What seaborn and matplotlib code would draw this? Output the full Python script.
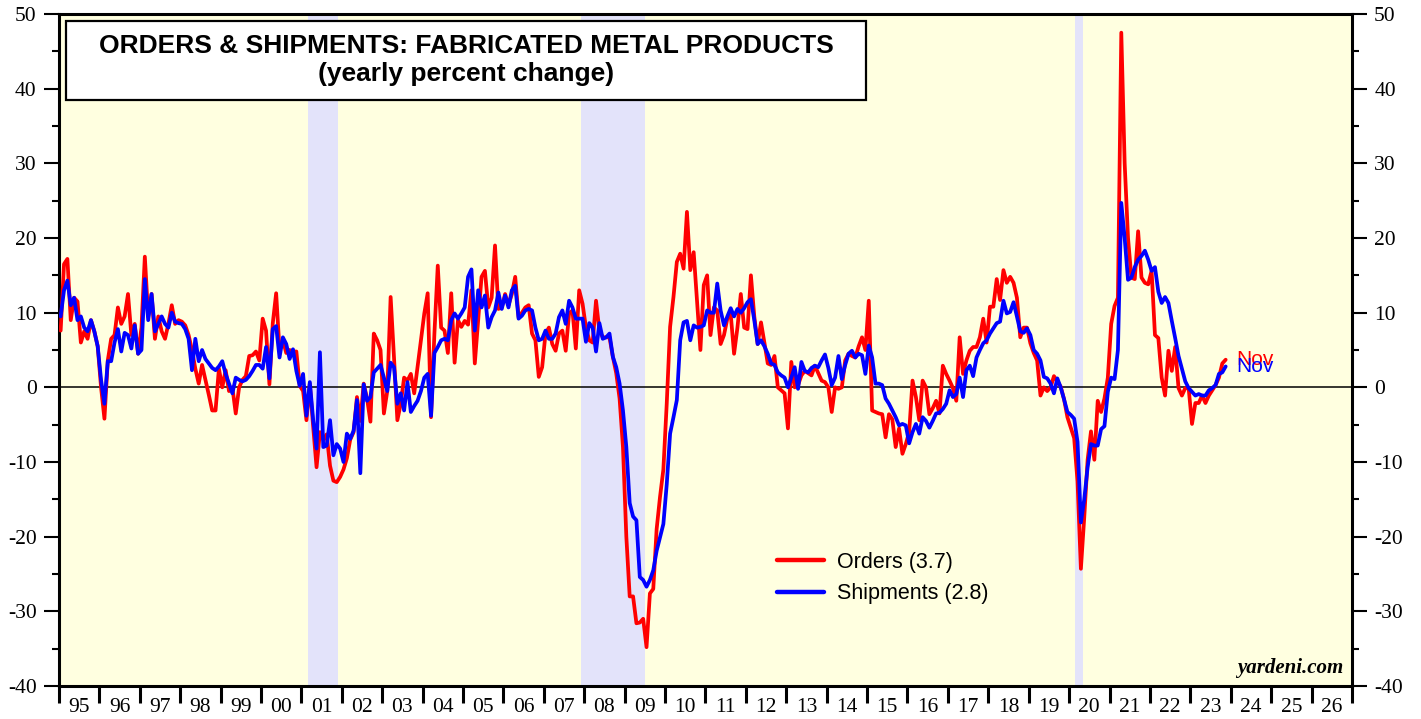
import numpy as np
import pandas as pd
import matplotlib
matplotlib.use("Agg")
import matplotlib.pyplot as plt
import seaborn as sns
from matplotlib.patches import Rectangle
from matplotlib.ticker import MultipleLocator, FixedFormatter

# Yearly percent change, monthly, Jan 1995 .. Nov 2023
orders = [
    7.6, 16.5, 17.2, 9.0, 12.0, 11.5, 6.0, 7.5, 6.5, 9.0, 7.5, 5.5,            # 1995
    0.0, -4.2, 3.6, 6.5, 7.0, 10.7, 8.5, 9.5, 12.5, 7.0, 8.5, 4.5,             # 1996
    8.0, 17.5, 9.5, 12.5, 6.5, 9.5, 7.5, 6.5, 8.5, 11.0, 8.5, 9.0,             # 1997
    8.8, 8.3, 7.0, 5.0, 2.5, 0.5, 3.0, 1.0, -1.0, -3.1, -3.1, 2.5,             # 1998
    0.0, 2.3, -0.5, 0.0, -3.5, 0.0, 1.0, 1.5, 4.2, 4.3, 4.8, 3.6,              # 1999
    9.2, 7.6, 0.4, 8.6, 12.6, 5.0, 6.3, 4.6, 5.0, 4.8, 4.8, 0.2,               # 2000
    -0.5, -4.4, 0.5, -5.3, -10.7, -6.0, -7.0, -6.3, -10.5, -12.5, -12.7, -12.0,  # 2001
    -11.0, -9.5, -7.0, -6.0, -1.3, -4.5, 0.5, -1.5, -4.6, 7.2, 6.3, 5.0,       # 2002
    -3.5, -0.5, 12.1, 4.0, -4.4, -2.2, 1.3, 0.9, 1.8, -0.8, 2.7, 6.3,          # 2003
    9.9, 12.6, -4.0, 7.2, 16.3, 8.0, 7.6, 4.6, 12.6, 3.3, 9.0, 8.1,            # 2004
    8.9, 8.4, 13.0, 3.2, 9.0, 14.8, 15.6, 10.7, 12.0, 19.0, 10.5, 10.7,        # 2005
    12.5, 11.0, 12.5, 14.8, 9.4, 10.0, 10.7, 11.0, 7.2, 6.3, 1.4, 2.7,         # 2006
    7.2, 8.0, 5.8, 4.9, 7.2, 7.6, 4.9, 9.9, 10.3, 5.2, 13.0, 11.2,             # 2007
    8.0, 6.3, 6.0, 11.6, 7.6, 6.7, 6.7, 6.7, 4.1, 1.9, -1.5, -8.0,             # 2008
    -20.0, -28.0, -28.0, -31.6, -31.5, -31.0, -34.8, -27.6, -27.0, -19.0, -14.7, -11.0,  # 2009
    -2.2, 8.1, 12.1, 16.8, 17.9, 15.9, 23.5, 15.7, 18.1, 11.6, 5.0, 13.7,      # 2010
    15.0, 7.0, 10.7, 10.3, 5.8, 7.0, 9.2, 9.8, 4.5, 8.0, 12.5, 8.0,            # 2011
    7.8, 15.0, 9.5, 5.8, 8.7, 6.0, 3.2, 3.0, 4.2, 0.0, -0.4, -0.8,             # 2012
    -5.5, 3.4, 0.0, 0.3, 1.6, 2.2, 1.9, 1.6, 2.9, 1.9, 0.9, 0.7,               # 2013
    0.0, -3.3, 0.0, -0.2, 0.0, 3.6, 4.5, 4.2, 4.0, 5.5, 6.7, 5.0,              # 2014
    11.6, -3.1, -3.3, -3.5, -3.6, -6.7, -3.6, -4.3, -8.0, -5.5, -8.9, -7.6,    # 2015
    -6.0, 0.9, -1.3, -4.4, 0.9, 0.0, -3.6, -2.8, -1.8, -3.5, 2.9, 1.8,         # 2016
    0.9, -0.1, -1.8, 6.7, 1.8, 3.6, 4.9, 5.4, 5.4, 6.7, 9.2, 6.0,              # 2017
    10.8, 10.8, 14.5, 11.7, 15.7, 14.0, 14.8, 14.0, 12.0, 6.7, 8.0, 8.0,       # 2018
    5.9, 4.6, 3.6, -1.1, 0.0, -0.5, 0.0, 1.5, 0.8, 0.1, -1.6, -4.0,            # 2019
    -5.4, -6.8, -12.6, -24.3, -17.4, -9.7, -5.9, -9.7, -1.8, -3.3, -1.5, 1.3,  # 2020
    8.5, 10.9, 12.0, 47.5, 30.0, 20.0, 14.7, 14.5, 20.9, 14.7, 14.0, 13.8,     # 2021
    15.6, 7.0, 6.6, 1.3, -1.1, 4.9, 2.2, 5.4, -0.1, -1.1, -0.1, -0.1,          # 2022
    -4.9, -2.1, -2.1, -1.1, -2.1, -1.1, -0.4, 0.3, 1.3, 3.2, 3.7,              # 2023
]
shipments = [
    9.5, 13.0, 14.3, 11.0, 12.0, 9.0, 9.5, 8.0, 7.5, 9.0, 7.5, 5.5,            # 1995
    1.0, -2.2, 3.5, 3.5, 6.0, 7.8, 4.8, 7.3, 7.0, 5.2, 8.3, 4.5,               # 1996
    5.0, 14.5, 9.0, 12.5, 7.5, 8.5, 9.5, 8.5, 8.0, 10.0, 8.8, 8.6,             # 1997
    8.5, 7.8, 6.5, 2.3, 6.5, 3.5, 5.0, 3.8, 3.2, 2.6, 2.3, 2.8,                # 1998
    3.5, 1.8, 0.5, -0.8, 1.3, 1.0, 0.8, 1.0, 1.5, 2.2, 3.0, 3.0,               # 1999
    2.5, 5.4, 1.2, 7.8, 8.2, 4.0, 6.7, 5.8, 3.8, 5.1, 2.2, 0.2,                # 2000
    1.8, -3.8, 0.7, -4.4, -8.2, 4.7, -8.0, -7.8, -4.4, -9.1, -7.6, -8.2,       # 2001
    -10.0, -6.2, -6.9, -5.8, -1.7, -11.5, 0.4, -1.8, -1.3, 2.0, 2.5, 3.0,      # 2002
    1.3, -0.5, 3.3, 2.7, -2.2, -0.8, -3.1, 0.7, -3.3, -2.5, -1.8, -0.5,        # 2003
    1.3, 1.8, -3.8, 4.6, 5.4, 6.3, 6.5, 6.3, 9.0, 9.9, 9.2, 9.9,               # 2004
    10.7, 14.8, 15.8, 7.6, 13.0, 10.7, 12.3, 8.0, 9.4, 10.3, 12.7, 10.5,       # 2005
    12.3, 10.7, 13.0, 13.6, 9.2, 9.6, 10.3, 10.5, 10.3, 8.0, 6.3, 6.5,         # 2006
    7.6, 6.5, 6.5, 7.2, 9.4, 10.3, 8.5, 11.6, 10.7, 9.2, 9.2, 9.2,             # 2007
    6.1, 8.6, 8.0, 4.8, 8.6, 6.5, 6.7, 7.2, 4.1, 2.7, 0.5, -3.1,               # 2008
    -8.0, -15.5, -17.3, -17.8, -25.4, -25.8, -26.7, -25.8, -24.5, -21.9, -20.1, -18.3,  # 2009
    -13.0, -6.2, -4.0, -1.7, 6.3, 8.7, 8.9, 6.3, 8.3, 8.0, 8.1, 8.3,           # 2010
    10.3, 10.0, 10.0, 13.9, 10.3, 8.3, 9.5, 10.6, 9.5, 10.5, 10.0, 10.6,       # 2011
    11.4, 11.8, 9.0, 5.8, 6.3, 5.5, 4.5, 3.2, 3.0, 2.0, 1.6, 1.3,              # 2012
    0.0, 1.3, 2.7, -0.2, 3.4, 2.2, 2.0, 2.6, 2.9, 2.7, 3.6, 4.4,               # 2013
    2.6, 0.3, 1.3, 4.2, 1.1, 3.0, 4.5, 4.9, 4.0, 4.5, 4.3, 1.8,                # 2014
    5.6, 4.0, 0.5, 0.5, 0.3, -1.5, -2.2, -3.1, -4.0, -5.1, -4.9, -5.1,         # 2015
    -7.5, -6.0, -4.9, -6.2, -4.0, -4.5, -5.4, -4.5, -3.5, -3.4, -2.9, -2.2,    # 2016
    -0.4, -1.3, -0.9, 1.3, -1.3, 2.3, 2.9, 1.5, 4.0, 5.0, 5.9, 6.3,            # 2017
    7.2, 7.9, 8.6, 8.8, 11.6, 9.9, 10.1, 11.4, 9.5, 7.5, 7.3, 7.9,             # 2018
    7.0, 5.0, 4.5, 3.6, 1.4, 1.2, 0.5, -0.8, 1.2, 0.0, -1.6, -3.3,             # 2019
    -3.7, -4.2, -7.3, -18.1, -15.0, -10.7, -7.6, -7.8, -7.8, -5.6, -5.2, -0.6, # 2020
    1.3, 1.1, 5.0, 24.7, 20.0, 14.4, 14.7, 16.1, 17.1, 17.6, 18.3, 17.1,       # 2021
    15.6, 16.1, 12.8, 11.3, 12.1, 11.3, 8.9, 6.6, 4.2, 2.5, 0.8, -0.1,         # 2022
    -0.6, -1.1, -0.9, -1.1, -1.1, -0.4, -0.1, 0.3, 1.8, 2.0, 2.8,              # 2023
]
start_year = 1995
year_labels = [f"{y % 100:02d}" for y in range(1995, 2027)]
recessions = [(2001.17, 2001.9), (2007.92, 2009.5), (2020.15, 2020.35)]

# Build frame (mid-month decimal dates)
n = len(orders)
t = np.array([start_year + (i + 0.5) / 12 for i in range(n)])
df = pd.DataFrame({"t": t, "orders": orders, "shipments": shipments})

sns.set_style("white")
plt.rcParams["axes.unicode_minus"] = False
plt.rcParams["font.family"] = ["Liberation Sans", "DejaVu Sans"]
plt.rcParams["text.color"] = "black"
plt.rcParams["xtick.color"] = "black"
plt.rcParams["ytick.color"] = "black"

fig = plt.figure(figsize=(14.21, 7.19), dpi=100)
ax = fig.add_axes([0.0415, 0.0459, 0.9099, 0.9346])
ax.set_facecolor("#FFFFE0")

for a, b in recessions:
    ax.axvspan(a, b, color="#E3E3FA", lw=0, zorder=0)
ax.axhline(0, color="black", lw=1.1, zorder=1)

sns.lineplot(data=df, x="t", y="orders", color="#FF0000", lw=2.7, ax=ax,
             label=f"Orders ({orders[-1]:.1f})", zorder=3)
sns.lineplot(data=df, x="t", y="shipments", color="#0000FF", lw=2.7, ax=ax,
             label=f"Shipments ({shipments[-1]:.1f})", zorder=4)

ax.set_xlim(1995, 2027)
ax.set_ylim(-40, 50)
ax.set_xlabel("")
ax.set_ylabel("")

# x axis: year boundaries as ticks, year labels centred in between
ax.xaxis.set_major_locator(MultipleLocator(1))
ax.xaxis.set_major_formatter(FixedFormatter([]))
ax.set_xticks(np.arange(1995, 2027) + 0.5, minor=True)
ax.set_xticklabels(year_labels, minor=True)
ax.tick_params(axis="x", which="major", direction="out", length=12, width=2.2,
               bottom=True, top=False, labelbottom=False)
ax.tick_params(axis="x", which="minor", length=0, pad=9, labelsize=15.5)

# y axis: labels on both sides
ax.yaxis.set_major_locator(MultipleLocator(10))
ax.yaxis.set_minor_locator(MultipleLocator(5))
ax.tick_params(axis="y", which="both", direction="out", left=True, right=True,
               labelleft=True, labelright=True, width=1.5)
ax.tick_params(axis="y", which="major", length=11, pad=5, labelsize=15.5)
ax.tick_params(axis="y", which="minor", length=5)
for lbl in ax.get_xticklabels(minor=True) + ax.get_yticklabels():
    lbl.set_family(["Liberation Serif", "DejaVu Serif"])
    lbl.set_color("black")

for s in ax.spines.values():
    s.set_visible(True)
    s.set_color("black")
    s.set_linewidth(2.2)

# title box
ax.add_patch(Rectangle((0.0054, 0.872), 0.6187, 0.1176, transform=ax.transAxes,
                       facecolor="white", edgecolor="black", lw=1.6, zorder=6))
ax.text(0.3148, 0.9524, "ORDERS & SHIPMENTS: FABRICATED METAL PRODUCTS",
        transform=ax.transAxes, ha="center", va="center", fontsize=19,
        fontweight="bold", color="black", zorder=7)
ax.text(0.3148, 0.9107, "(yearly percent change)", transform=ax.transAxes,
        ha="center", va="center", fontsize=19, fontweight="bold",
        color="black", zorder=7)

# legend
leg = ax.legend(loc="upper left", bbox_to_anchor=(0.555, 0.2), frameon=False,
                fontsize=15.5, handlelength=2.2, handletextpad=0.6,
                labelspacing=0.5, borderpad=0, borderaxespad=0)
for line in leg.get_lines():
    line.set_linewidth(3.2)
for txt in leg.get_texts():
    txt.set_color("black")

# end-of-series labels (they overlap in the source chart too)
ax.text(t[-1] + 0.25, orders[-1], "Nov", color="#FF0000", fontsize=15, va="center", zorder=5)
ax.text(t[-1] + 0.25, shipments[-1], "Nov", color="#0000FF", fontsize=15, va="center", zorder=5)

ax.text(0.9935, 0.012, "yardeni.com", transform=ax.transAxes, ha="right", va="bottom",
        fontsize=15, fontweight="bold", fontstyle="italic", color="black",
        family=["Liberation Serif", "DejaVu Serif"], zorder=7)

fig.savefig("out.png", dpi=100)
plt.close(fig)
